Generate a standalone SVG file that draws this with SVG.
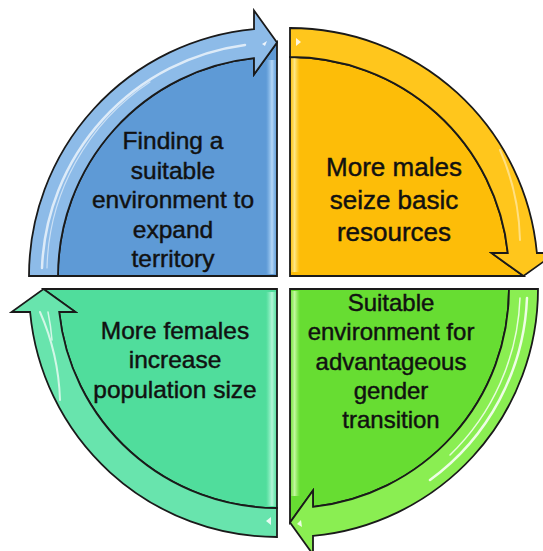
<svg xmlns="http://www.w3.org/2000/svg" width="543" height="551" viewBox="0 0 543 551">
<defs>
<style>
.edge{stroke:#1a1a1a;stroke-width:1.8;stroke-linejoin:miter;}
.hl{fill:none;stroke:#ffffff;stroke-linecap:round;}
.lbl{font-family:"Liberation Sans",Arial,sans-serif;fill:#111;stroke:#111;stroke-width:0.45;text-anchor:middle;}
</style>
<linearGradient id="gBlueStrip" x1="0" y1="0" x2="1" y2="0">
<stop offset="0" stop-color="#8ec0ee" stop-opacity="0"/>
<stop offset="0.6" stop-color="#b7d8f6"/>
<stop offset="1" stop-color="#8ec0ee" stop-opacity="0.3"/>
</linearGradient>
<linearGradient id="gOrangeStrip" x1="0" y1="0" x2="1" y2="0">
<stop offset="0" stop-color="#ffd84a" stop-opacity="0.4"/>
<stop offset="0.4" stop-color="#ffe88a"/>
<stop offset="1" stop-color="#ffd84a" stop-opacity="0"/>
</linearGradient>
<linearGradient id="gGreenStrip" x1="0" y1="0" x2="1" y2="0">
<stop offset="0" stop-color="#a8f27a" stop-opacity="0.4"/>
<stop offset="0.4" stop-color="#c4f8a0"/>
<stop offset="1" stop-color="#a8f27a" stop-opacity="0"/>
</linearGradient>
<linearGradient id="gTealStrip" x1="0" y1="0" x2="1" y2="0">
<stop offset="0" stop-color="#8ef0c4" stop-opacity="0"/>
<stop offset="0.6" stop-color="#b4f6d8"/>
<stop offset="1" stop-color="#8ef0c4" stop-opacity="0.3"/>
</linearGradient>
</defs>
<rect width="543" height="551" fill="#ffffff"/>

<g id="node-blue">
<path d="M58,276 A219,219 0 0 1 254,58.2 L254,74.5 L277,42.5 L277,276 Z" fill="#5e9ad6" class="edge"/>
<rect x="266" y="60" width="10" height="214" fill="url(#gBlueStrip)"/>
<path d="M29,276 A248,248 0 0 1 254,29.1 L254,10.5 L277,42.5 L254,74.5 L254,58.2 A219,219 0 0 0 58,276 Z" fill="#8dbbe8" class="edge"/>
<path class="hl" d="M42,268 A234,234 0 0 1 245,45" stroke-width="2.5" opacity="0.7"/>
<path class="hl" d="M47,268 A229,229 0 0 1 150,82" stroke-width="1.2" opacity="0.55"/>
<path d="M262,44 L267,41 L265,46 Z" fill="#ffffff" opacity="0.85"/>
<text class="lbl" font-size="24.5" x="173" y="149">Finding a</text>
<text class="lbl" font-size="24.5" x="173" y="178.5">suitable</text>
<text class="lbl" font-size="24.5" x="173" y="208">environment to</text>
<text class="lbl" font-size="24.5" x="173" y="237.5">expand</text>
<text class="lbl" font-size="24.5" x="173" y="267">territory</text>
</g>

<g id="node-orange">
<path d="M290,57 A219,219 0 0 1 507.8,253 L491.5,253 L523.5,276 L290,276 Z" fill="#fdbd08" class="edge"/>
<rect x="291" y="58" width="9" height="214" fill="url(#gOrangeStrip)"/>
<path d="M290,28 A248,248 0 0 1 536.9,253 L555.5,253 L523.5,276 L491.5,253 L507.8,253 A219,219 0 0 0 290,57 Z" fill="#ffc61c" class="edge"/>
<path class="hl" d="M500,150 A236,236 0 0 1 520,240" stroke-width="2" opacity="0.45"/>
<path d="M296,38 L301,42 L296,46 Z" fill="#ffffff" opacity="0.85"/>
<text class="lbl" font-size="26" x="394" y="176">More males</text>
<text class="lbl" font-size="26" x="394" y="208.5">seize basic</text>
<text class="lbl" font-size="26" x="394" y="241">resources</text>
</g>

<g id="node-green">
<path d="M509,289 A219,219 0 0 1 313,506.8 L313,490.5 L290,522.5 L290,289 Z" fill="#67dd32" class="edge"/>
<rect x="291" y="291" width="9" height="205" fill="url(#gGreenStrip)"/>
<path d="M538,289 A248,248 0 0 1 313,535.9 L313,554.5 L290,522.5 L313,490.5 L313,506.8 A219,219 0 0 0 509,289 Z" fill="#8aee52" class="edge"/>
<path class="hl" d="M527,298 A237,237 0 0 1 430,480" stroke="#e6fcc8" stroke-width="2.5" opacity="0.85"/>
<path class="hl" d="M520,298 A230,230 0 0 1 450,455" stroke="#d6fab0" stroke-width="1.5" opacity="0.8"/>
<path d="M301,520 L297,524 L302,527 Z" fill="#ffffff" opacity="0.85"/>
<text class="lbl" font-size="24" x="391" y="311">Suitable</text>
<text class="lbl" font-size="24" x="391" y="340">environment for</text>
<text class="lbl" font-size="24" x="391" y="369.5">advantageous</text>
<text class="lbl" font-size="24" x="391" y="398.5">gender</text>
<text class="lbl" font-size="24" x="391" y="427.5">transition</text>
</g>

<g id="node-teal">
<path d="M277,508 A219,219 0 0 1 59.2,312 L75.5,312 L43.5,289 L277,289 Z" fill="#50dd9c" class="edge"/>
<rect x="266" y="292" width="10" height="214" fill="url(#gTealStrip)"/>
<path d="M277,537 A248,248 0 0 1 30.1,312 L11.5,312 L43.5,289 L75.5,312 L59.2,312 A219,219 0 0 0 277,508 Z" fill="#68e4ad" class="edge"/>
<path class="hl" d="M40,312 A236,236 0 0 1 60,400" stroke="#c8f8e4" stroke-width="2" opacity="0.7"/>
<path class="hl" d="M48,312 A231,231 0 0 1 52,340" stroke="#c8f8e4" stroke-width="1.5" opacity="0.7"/>
<path d="M271,517 L266,521 L271,525 Z" fill="#ffffff" opacity="0.85"/>
<text class="lbl" font-size="24.5" x="175" y="338.5">More females</text>
<text class="lbl" font-size="24.5" x="175" y="368">increase</text>
<text class="lbl" font-size="24.5" x="175" y="397.5">population size</text>
</g>

<g id="connectors"></g>
</svg>
